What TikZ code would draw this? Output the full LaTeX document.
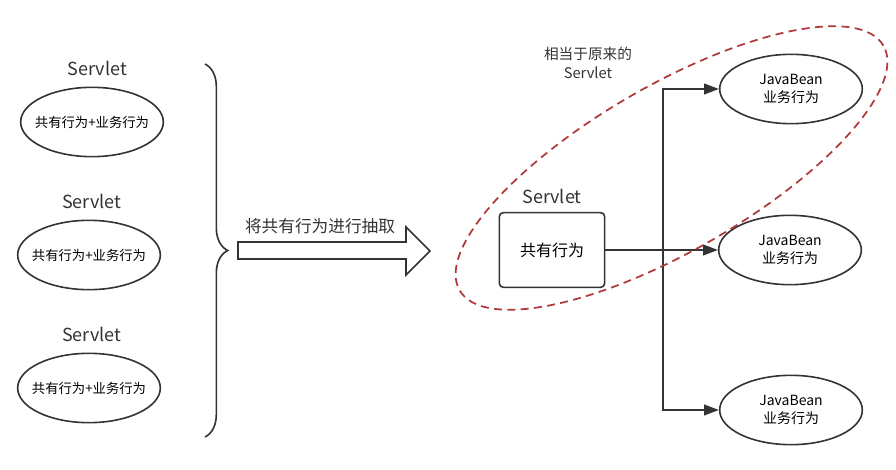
\documentclass[tikz,border=0pt]{standalone}
\usepackage{fontspec}
\setmainfont{Noto Sans CJK SC}
\usetikzlibrary{arrows.meta, shapes.geometric, positioning, calc, decorations.pathreplacing}
\definecolor{jbgray}{HTML}{333333}
\definecolor{jbred}{HTML}{B0383A}

\begin{document}
\begin{tikzpicture}[
    x=0.75pt, y=-0.75pt,
    behavior/.style={
        ellipse,
        draw=jbgray,
        line width=1.2pt,
        minimum width=107pt,
        minimum height=52pt,
        inner sep=0pt,
        inner xsep=-12pt,
        align=center,
        font=#1
    },
    behavior/.default={\fontsize{10}{12}\selectfont},
    common/.style={
        rectangle,
        rounded corners=3pt,
        draw=jbgray,
        line width=1.2pt,
        minimum width=79pt,
        minimum height=56pt,
        font=\fontsize{12}{14}\selectfont
    },
    title/.style={
        font=\fontsize{13.5}{16}\selectfont,
        text=jbgray,
        inner sep=1pt
    },
    arrow/.style={
        -{Triangle[length=11pt, width=8pt]},
        line width=1.2pt,
        draw=jbgray
    }
]
\useasboundingbox (0,0) rectangle (896,470);

% Servlets before
\node[behavior] (old1) at (92,122) {共有行为+业务行为};
\node[behavior] (old2) at (89,255) {共有行为+业务行为};
\node[behavior] (old3) at (89,388) {共有行为+业务行为};
\node[title, above=7pt of old1, xshift=4pt] (oldname1) {Servlet};
\node[title, above=7pt of old2, xshift=2pt] (oldname2) {Servlet};
\node[title, above=7pt of old3, xshift=2pt] (oldname3) {Servlet};

% Brace
\coordinate (bracetop) at (205,64);
\coordinate (bracebottom) at (205,437);
\draw[jbgray, line width=1.2pt, decorate, decoration={brace, amplitude=17pt}] (bracetop) -- (bracebottom);

% Extraction arrow
\draw[jbgray, line width=1.2pt, fill=white] (238,242) -- (406,242) -- (406,227) -- (430,251)
    -- (406,275) -- (406,259) -- (238,259) -- cycle;
\node[font=\fontsize{12.5}{15}\selectfont, text=jbgray] (extract) at (320,226) {将共有行为进行抽取};

% Servlet after
\node[common] (servlet) at (552,250) {共有行为};
\node[title, above=5pt of servlet] (servletname) {Servlet};

% JavaBeans
\node[behavior={\fontsize{10.5}{13}\selectfont}] (bean1) at (791,89) {JavaBean\\业务行为};
\node[behavior={\fontsize{10.5}{13}\selectfont}] (bean2) at (790,250) {JavaBean\\业务行为};
\node[behavior={\fontsize{10.5}{13}\selectfont}] (bean3) at (791,410) {JavaBean\\业务行为};

% Connectors
\coordinate (split) at (663,250);
\draw[arrow] (servlet.east) -- (bean2.west);
\draw[arrow] (split) |- (bean1.west);
\draw[arrow] (split) |- (bean3.west);

% Grouping
\draw[jbred, line width=1.3pt, dash pattern=on 6pt off 4pt, rotate around={30:(671.5,168)}]
    (671.5,168) ellipse [x radius=183.5pt, y radius=62pt];
\node[font=\fontsize{11}{14}\selectfont, text=jbgray, align=center] (groupname) at (588,63) {相当于原来的\\Servlet};

\end{tikzpicture}
\end{document}
